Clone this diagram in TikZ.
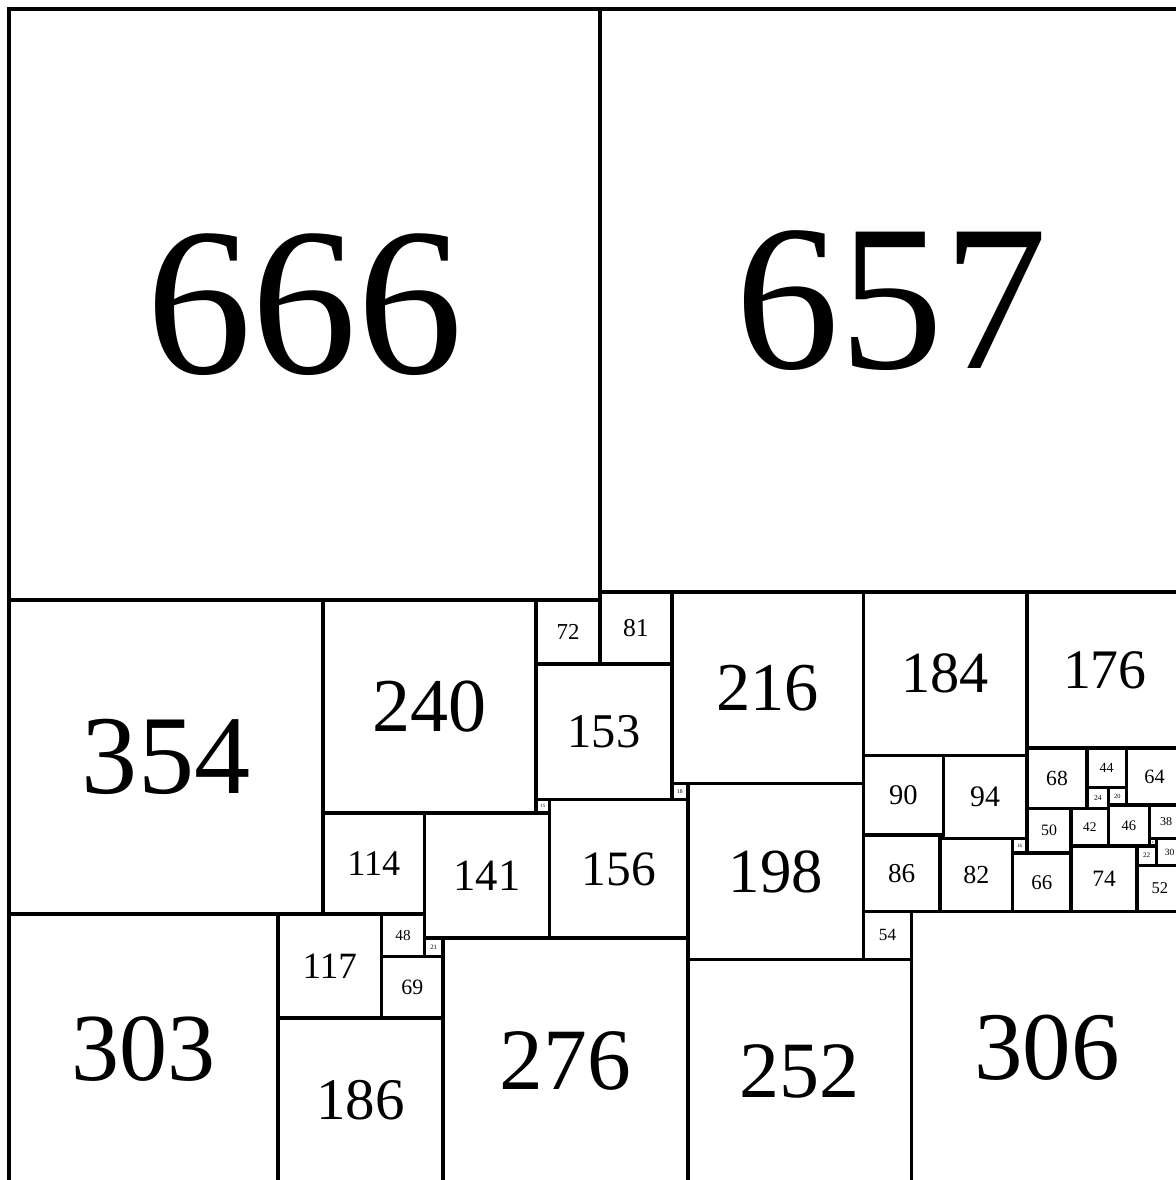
\documentclass[tikz,border=0pt]{standalone}
\usepackage{fontspec}
\setmainfont{Liberation Serif}
\usepackage{tikz}

\begin{document}
\begin{tikzpicture}[x=0.01cm, y=-0.01cm]
      \def\linew{1.1pt}
      \def\fontratio{0.1016}
      \useasboundingbox (-10.14,-10.14) rectangle (1315.1,1319.6);

      \foreach \px/\py/\s in {0/0/666, 666/0/657, 0/666/354, 354/666/240,
        354/906/114, 594/666/72, 666/657/81, 594/738/153, 594/891/15,
        468/906/141, 609/891/156, 747/873/18, 747/657/216, 765/873/198,
        963/657/184, 1147/657/176, 963/841/90, 1053/841/94, 963/931/86,
        1049/935/82, 1131/935/16, 1131/951/66, 1147/833/68, 1215/833/44,
        1259/833/64, 1215/877/24, 1239/877/20, 1147/901/50, 1197/901/42,
        1239/897/46, 1285/897/38, 1285/935/8, 1293/935/30, 1271/943/22,
        1197/943/74, 1271/965/52, 963/1017/54, 1017/1017/306, 765/1071/252,
        489/1047/276, 468/1047/21, 420/1020/48, 420/1068/69, 303/1020/117,
        0/1020/303, 303/1137/186} {
        \pgfmathsetmacro\fs{\fontratio*\s}
        \draw[line width=\linew] (\px,\py) rectangle ++(\s,\s);
        \node[anchor=center, font=\fontsize{\fs pt}{\fs pt}\selectfont]
          (sq\s) at ({\px+\s/2},{\py+\s/2}) {\s};
      }
    \end{tikzpicture}
\end{document}
